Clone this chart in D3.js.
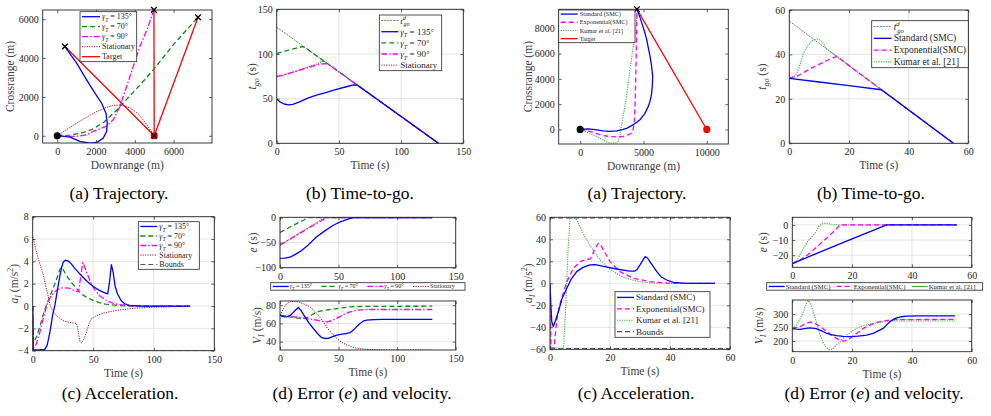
<!DOCTYPE html>
<html>
<head>
<meta charset="utf-8">
<script src="https://cdn.jsdelivr.net/npm/d3@7"></script>
<style>
body { margin: 0; background: #fff; }
svg, svg text, svg tspan { font-family: "Liberation Serif", "Times New Roman", "DejaVu Serif", serif !important; }
</style>
</head>
<body>
<svg id="fig" width="991" height="416"></svg>
<script>
// ---------- data ----------
// left group: gamma_T cases
const lTrajT135 = [[0,0],[139,0],[655,-69],[1170,-291],[1686,-377],[2031,-343],[2371,-120],[2546,223],[2577,651],[2510,1165],[2289,1680],[1943,2194],[1515,2879],[1000,3736],[397,4591]];
const lTrajT70 = [[0,0],[655,40],[1200,130],[1800,330],[2400,700],[3000,1250],[3600,1900],[4300,2650],[5000,3450],[6000,4700],[7260,6100]];
const lTrajT90 = [[0,0],[500,-30],[1000,-34],[1500,50],[1856,223],[2250,380],[2546,500],[2887,823],[3232,1508],[3577,2536],[3918,3563],[4263,4591],[4691,5620],[4985,6478]];
const lTrajStat = [[0,0],[500,330],[1000,650],[1500,950],[2000,1230],[2500,1450],[2900,1570],[3300,1580],[3800,1420],[4200,1100],[4600,600],[5000,0]];
const lTargetEnds = [[397,4591],[4985,6478],[7260,6100]];
const lTargetStart = [5000,0];

const lTgoRef = [[0,130],[130,0]];
const lTgoT135 = [[0,49.6],[3,46],[6,44],[9.4,42.9],[13,43.5],[18.75,46.6],[25,50.5],[32,54],[40,57],[48,60.4],[56,63.3],[61.6,65.3],[65,65],[130,0]];
const lTgoT70 = [[0,100.7],[5,102.5],[10,104.5],[15,106.3],[21,108.3],[24,106],[130,0]];
const lTgoT90 = [[0,74.6],[5,76],[10,78.2],[18.75,82],[25,84.5],[32,87.5],[38,89.2],[41,89],[130,0]];
const lTgoStat = [[0,75],[5,76.5],[10,78.5],[18,82],[25,85.5],[32,88.5],[36,91.5],[38,92],[130,0]];

const lAccT135 = [[0,0],[0.4,-3.9],[5,-3.93],[10,-3.88],[12,-3.5],[14.3,-2.3],[16.5,-0.8],[18.4,0.1],[20.5,1.5],[22.6,2.78],[24,3.5],[25.3,3.95],[27,4.1],[29,4.05],[31.7,3.8],[35,3.35],[40,2.75],[45,2.2],[50,1.75],[55,1.4],[60,1.15],[62,1.1],[63.5,2.2],[65,3.7],[66.5,3],[68,1.8],[70,1.1],[73,0.5],[76,0.2],[80,0.05],[90,0],[130,0]];
const lAccT70 = [[0,0],[0.5,-3.3],[3,-2.8],[6,-1.8],[10,-0.3],[14,0.8],[18,1.9],[21,2.8],[23,3.45],[25,3.3],[28,2.7],[32,2.1],[36,1.6],[40,1.1],[45,0.75],[50,0.5],[55,0.3],[60,0.18],[70,0.05],[80,0],[130,0]];
const lAccT90 = [[0,0],[0.5,-3.8],[3,-3.4],[6,-2.3],[9,-1],[12,0.2],[15,0.9],[20,1.45],[25,1.65],[30,1.6],[35,1.35],[38,1.3],[39.5,2.5],[41.3,3.9],[43,3.5],[45,2.9],[48,2.1],[51,1.5],[55,0.95],[60,0.55],[65,0.3],[70,0.15],[80,0.03],[90,0],[130,0]];
const lAccStat = [[0,6.2],[1.5,5.6],[3,4.9],[5,4.1],[7,3.4],[8.8,2.78],[11,1.7],[13,0.8],[14.3,0.1],[16,-0.35],[20,-0.9],[25,-1.3],[28,-1.4],[32,-1.5],[36.3,-1.55],[37.5,-2.2],[39,-3.2],[40.5,-3.3],[42,-3],[44.6,-2.3],[46.5,-1.6],[48.7,-1.1],[52,-0.9],[58,-0.65],[63.9,-0.5],[70,-0.38],[83,-0.2],[100,-0.1],[130,-0.03]];
const lAccBound = -4;

const lErrT135 = [[0,-81.5],[4,-81],[8.5,-78.8],[12,-75],[17,-68],[24,-55],[31.3,-38.4],[38,-27],[45.5,-15.2],[52,-8],[58,-3],[62.6,0],[130,0]];
const lErrT70 = [[0,-29.8],[5,-23.5],[10,-17],[15,-11],[20,-5.3],[24,0],[130,0]];
const lErrT90 = [[0,-55],[10,-41],[20,-27],[30,-13.5],[40,0],[130,0]];
const lErrStat = [[0,-55],[10,-40.5],[20,-26],[30,-11.5],[38,0],[130,0]];

const lVelT135 = [[0,69],[3,67.5],[5.7,67.3],[9,69],[12,73],[15.7,77.5],[18,74],[21.3,67.3],[25,60],[28.5,54.5],[32,49],[35.6,44.4],[38.5,43.5],[41.3,43.6],[45,45.5],[48.4,47.3],[53,48.2],[57,49],[60,50],[62.6,52.7],[65.5,56.5],[68.3,60],[71,62.5],[74,63.6],[80,64.2],[88,64.4],[130,64.4]];
const lVelT70 = [[0,69],[4,67.5],[8.5,67.3],[14,66],[20,65],[25,67.5],[31.3,72.7],[38,74.5],[45.5,75.6],[52,77],[59.8,78.2],[70,78.7],[130,78.9]];
const lVelT90 = [[0,69],[8,67.8],[17,66.5],[25,65],[31.3,63.6],[36,62.3],[39.8,61.8],[44,63],[48.4,65.5],[54,69.5],[59.8,72.7],[66,74.5],[74,75.3],[130,75.3]];
const lVelStat = [[0,69],[3,76],[5.7,81.8],[9,84],[13,84.4],[17,83],[21,81],[25.6,78.2],[30,73],[34,67],[37,61.8],[41,54],[45.5,47.3],[50,42],[54,38.2],[60,35],[65.5,32.7],[75,31.5],[88,31],[130,31]];

// right group: guidance laws
const rTrajStd = [[0,0],[600,50],[1200,-20],[1800,-120],[2350,-150],[2900,-110],[3400,0],[3700,110],[4200,380],[4723,768],[5100,1250],[5383,1828],[5560,2400],[5646,2887],[5700,3500],[5725,4212],[5640,5000],[5515,5801],[5380,6450],[5251,7126],[5060,7800],[4855,8450],[4670,9000],[4485,9510]];
const rTrajExp = [[0,0],[600,-100],[1200,-300],[1800,-480],[2348,-556],[2900,-590],[3404,-556],[3800,-420],[4063,-291],[4200,100],[4280,800],[4327,1828],[4370,3400],[4406,5007],[4435,6400],[4459,7656],[4475,8600],[4485,9510]];
const rTrajKumar = [[0,0],[600,-230],[1200,-500],[1557,-689],[2000,-950],[2348,-1086],[2700,-1060],[3008,-954],[3150,-500],[3193,-26],[3350,800],[3536,1828],[3750,3300],[3931,4741],[4070,5700],[4195,6596],[4330,7500],[4459,8450],[4485,9510]];
const rTarget = [[10000,0],[4485,9510]];

const rTgoRef = [[0,55],[55,0]];
const rTgoStd = [[0,29.25],[10,27.6],[20,26],[30.9,24.1],[55,0]];
const rTgoExp = [[0,29.5],[2,29.8],[4,31.2],[7,33.5],[10,35.5],[13,37.5],[15.9,39.1],[55,0]];
const rTgoKumar = [[0,29.5],[1.5,30],[2.5,31.5],[3.5,35],[4.7,40.5],[6,43.5],[7,45.3],[8,46.5],[9.2,47],[10.3,46.5],[11.4,45],[12.5,42.5],[55,0]];

const rAccStd = [[0,0],[0.3,-20],[0.6,-35],[1.1,-39.4],[1.8,-34],[2.8,-25.7],[4,-14],[5.6,-4.5],[7,3.5],[8.9,10.6],[11,14.5],[13.3,16.7],[15,17],[16.7,16.1],[19,14.8],[22.2,13],[25,11.8],[26.7,11],[28.2,11],[29,12.5],[30,16.7],[31.7,24.2],[32.5,23],[33.3,19.7],[35.6,10.6],[37,6],[38.9,3],[41.1,0.9],[44.4,0.1],[46,0],[55,0]];
const rAccExp = [[0,0],[0.3,-59],[1.3,-59],[2.2,-35],[3,-22],[3.9,-13.6],[5.6,1.5],[7.8,13.6],[10,19.7],[12.2,21.8],[13.3,22],[14,25],[15,31.8],[16.1,36.4],[17,34.5],[17.8,30.3],[20,19.7],[23.3,10.6],[27.8,4.5],[33.3,1.5],[38.9,0.2],[42,0],[55,0]];
const rAccKumar = [[0,0],[0.3,-59],[4.5,-59],[5,-35],[5.5,-5],[6,30],[6.7,59],[8.5,59],[9,57],[10,51.5],[11.5,43],[13.3,34.8],[15,27.5],[16.7,21.2],[19,15],[21.1,10.6],[23,7.5],[25.6,4.5],[28,2.8],[30,1.5],[33,0.6],[35.6,0.1],[40,0],[55,0]];
const rAccBound = 59.3;

const rErrStd = [[0,-25.6],[10,-17.3],[20,-9.3],[31.6,0],[55,0]];
const rErrExp = [[0,-25.6],[2,-24],[5,-20],[8,-15],[12,-8],[16,0],[55,0]];
const rErrKumar = [[0,-25.6],[1.5,-23.5],[3.7,-15.5],[5.5,-10],[7.6,-5.6],[9,-0.5],[10.4,1.1],[12,0.8],[13.7,0.1],[16,0],[55,0]];

const rVelStd = [[0,247],[1.3,244],[2.6,243],[4,246],[5.9,249],[8,246],[10,237],[11.5,228],[13,224],[14.8,220],[17,217],[19.3,216],[22,218],[24.9,222],[27,228],[28.2,235],[30.4,247],[31.5,259],[32.7,272],[33.8,280],[34.9,286],[36.5,290],[38.2,292],[42,293],[54.4,293]];
const rVelExp = [[0,247],[1.3,250],[2.6,253],[4,262],[5.9,270],[7,268],[8.1,262],[10,248],[11.5,235],[13,222],[14.8,210],[16,203],[17.1,200],[18,202],[19.3,210],[21.5,228],[23.8,247],[26,259],[28.2,269],[30.5,274],[32.7,278],[36,279.5],[54.4,280]];
const rVelKumar = [[0,247],[1.4,259],[2.5,280],[3.7,309],[4.6,335],[5.4,350],[6.2,335],[7,309],[8.1,268],[9.3,222],[10.4,192],[11.5,173],[12.6,167],[13.7,172],[14.8,185],[16.5,205],[18.2,222],[20.4,240],[22.6,253],[25,260],[27.1,265],[30,270],[32.7,274],[54.4,274]];

// tick labels
const tickTime150 = [0, 50, 100, 150];
const tickTime60 = [0, 20, 40, 60];

// ---------- styles ----------
const FONT = '"Liberation Serif", "Times New Roman", "DejaVu Serif", serif';
const S = {
  blue:  { c: "#0000ff", w: 1.3 },
  green: { c: "#138a13", w: 1.3, dash: "5,3" },
  mag:   { c: "#ff00ff", w: 1.3, dash: "6,2,1.5,2" },
  stat:  { c: "#a2142f", w: 1.0, dash: "1.2,1.2" },
  red:   { c: "#ff0000", w: 1.3 },
  ref:   { c: "#555555", w: 0.8, dash: "2,1" },
  bound: { c: "#555555", w: 1.1, dash: "5,3" },
  expo:  { c: "#ff00ff", w: 1.3, dash: "5,3" },
  kumar: { c: "#3cb43c", w: 1.1, dash: "1.2,1.2" }
};

const svg = d3.select("#fig").attr("font-family", FONT);
let clipId = 0;

function rich(sel, parts, fs) {
  let cur = 0;
  parts.forEach(p => {
    if (typeof p === "string") p = { t: p };
    const sh = p.sub ? fs * 0.3 : p.sup ? -fs * 0.4 : 0;
    const ts = sel.append("tspan").attr("dy", sh - cur).text(p.t);
    if (p.dx) ts.attr("dx", p.dx);
    cur = sh;
    if (p.sub || p.sup) ts.attr("font-size", fs * 0.7);
    if (p.it) ts.attr("font-style", "italic");
  });
  return sel;
}

const gT = (v) => [{ t: "γ", it: true }, { t: "T", sub: true, it: true }, " = " + v + "°"];
const tgoD = [{ t: "t", it: true }, { t: "d", sup: true, it: true }, { t: "go", sub: true, it: true, dx: -2.5 }];

function panel(o) {
  const x = d3.scaleLinear().domain(o.xd).range([o.left, o.left + o.w]);
  const y = d3.scaleLinear().domain(o.yd).range([o.top + o.h, o.top]);
  const g = svg.append("g");
  const id = "clip" + (clipId++);
  g.append("clipPath").attr("id", id).append("rect")
    .attr("x", o.left).attr("y", o.top).attr("width", o.w).attr("height", o.h);

  if (o.grid) {
    g.selectAll(".gx").data(o.xt).join("line")
      .attr("x1", d => x(d)).attr("x2", d => x(d)).attr("y1", o.top).attr("y2", o.top + o.h)
      .attr("stroke", "#dfdfdf").attr("stroke-width", 0.8);
    g.selectAll(".gy").data(o.yt).join("line")
      .attr("x1", o.left).attr("x2", o.left + o.w).attr("y1", d => y(d)).attr("y2", d => y(d))
      .attr("stroke", "#dfdfdf").attr("stroke-width", 0.8);
  }

  const line = d3.line().x(d => x(d[0])).y(d => y(d[1]));
  const plot = g.append("g").attr("clip-path", `url(#${id})`);
  (o.series || []).forEach(s => {
    plot.append("path").datum(s.d).attr("d", line)
      .attr("fill", "none").attr("stroke", s.c).attr("stroke-width", s.w)
      .attr("stroke-dasharray", s.dash || null).attr("stroke-linejoin", "round");
  });

  // axes: ticks inside on all four sides
  const fs = 10;
  const ax = (gen, tr, labels) => {
    const a = g.append("g").attr("transform", tr).call(gen).attr("font-family", FONT);
    a.select(".domain").remove();
    a.selectAll(".tick line").attr("stroke", "#262626").attr("stroke-width", 0.7);
    a.selectAll("text").attr("font-size", fs).attr("fill", "#262626");
    if (!labels) a.selectAll("text").remove();
  };
  ax(d3.axisBottom(x).tickValues(o.xt).tickSize(-3).tickPadding(5).tickFormat(d3.format("d")), `translate(0,${o.top + o.h})`, true);
  ax(d3.axisTop(x).tickValues(o.xt).tickSize(-3), `translate(0,${o.top})`, false);
  ax(d3.axisLeft(y).tickValues(o.yt).tickSize(-3).tickPadding(4).tickFormat(d3.format("d")), `translate(${o.left},0)`, true);
  ax(d3.axisRight(y).tickValues(o.yt).tickSize(-3), `translate(${o.left + o.w},0)`, false);

  g.append("rect").attr("x", o.left).attr("y", o.top).attr("width", o.w).attr("height", o.h)
    .attr("fill", "none").attr("stroke", "#262626").attr("stroke-width", 0.9);

  if (o.xlab) {
    rich(g.append("text").attr("x", o.left + o.w / 2).attr("y", o.top + o.h + 26)
      .attr("text-anchor", "middle").attr("font-size", 11.5).attr("fill", "#404040"), o.xlab, 11.5);
  }
  if (o.ylab) {
    rich(g.append("text").attr("transform", `translate(${o.ylabX},${o.top + o.h / 2}) rotate(-90)`)
      .attr("text-anchor", "middle").attr("font-size", 11.5).attr("fill", "#404040"), o.ylab, 11.5);
  }
  return { x, y, g };
}

function legendV(o) {
  const g = svg.append("g");
  g.append("rect").attr("x", o.x).attr("y", o.y).attr("width", o.w).attr("height", o.h)
    .attr("fill", "#fff").attr("stroke", "#262626").attr("stroke-width", 0.8);
  const rh = o.h / o.items.length;
  o.items.forEach((it, i) => {
    const cy = o.y + rh * (i + 0.5);
    g.append("line").attr("x1", o.x + 2).attr("x2", o.x + 2 + o.ll).attr("y1", cy).attr("y2", cy)
      .attr("stroke", it.c).attr("stroke-width", it.w).attr("stroke-dasharray", it.dash || null);
    rich(g.append("text").attr("x", o.x + 4 + o.ll).attr("y", cy + o.fs * 0.33)
      .attr("font-size", o.fs).attr("fill", "#262626"), it.parts, o.fs);
  });
}

function legendH(o) {
  const g = svg.append("g");
  g.append("rect").attr("x", o.x).attr("y", o.y).attr("width", o.w).attr("height", o.h)
    .attr("fill", "#fff").attr("stroke", "#262626").attr("stroke-width", 0.8);
  const cy = o.y + o.h / 2;
  const texts = o.items.map(it => rich(g.append("text").attr("y", cy + o.fs * 0.33)
    .attr("font-size", o.fs).attr("fill", "#262626"), it.parts, o.fs));
  const lens = texts.map(t => t.node().getComputedTextLength());
  const used = d3.sum(lens) + o.items.length * (o.ll + 1);
  const gap = (o.w - 3 - used) / o.items.length;
  let cx = o.x + 2;
  o.items.forEach((it, i) => {
    g.append("line").attr("x1", cx).attr("x2", cx + o.ll).attr("y1", cy).attr("y2", cy)
      .attr("stroke", it.c).attr("stroke-width", it.w).attr("stroke-dasharray", it.dash || null);
    texts[i].attr("x", cx + o.ll + 1);
    cx += o.ll + 1 + lens[i] + gap;
  });
}

function dot(p, px, py, fill) {
  svg.append("circle").attr("cx", p.x(px)).attr("cy", p.y(py)).attr("r", 3.6).attr("fill", fill);
}
function cross(p, px, py) {
  const cx = p.x(px), cy = p.y(py), r = 2.8;
  svg.append("path").attr("d", `M${cx - r},${cy - r}L${cx + r},${cy + r}M${cx - r},${cy + r}L${cx + r},${cy - r}`)
    .attr("stroke", "#000").attr("stroke-width", 1.4).attr("fill", "none");
}
function caption(x, y, txt) {
  svg.append("text").attr("x", x).attr("y", y).attr("text-anchor", "middle")
    .attr("font-size", 17.5).attr("fill", "#000").text(txt);
}
const ser = (d, st) => Object.assign({ d }, st);

// ================= LEFT (a) trajectory =================
const pLA = panel({
  left: 42.7, top: 10, w: 169.3, h: 133, xd: [-750, 7980], yd: [-370, 6470],
  xt: [0, 2000, 4000, 6000], yt: [0, 2000, 4000, 6000],
  xlab: ["Downrange (m)"], ylab: ["Crossrange (m)"], ylabX: 14,
  series: [
    ...lTargetEnds.map(e => ser([lTargetStart, e], S.red)),
    ser(lTrajStat, S.stat), ser(lTrajT70, S.green), ser(lTrajT90, S.mag), ser(lTrajT135, S.blue)
  ]
});
dot(pLA, 0, 0, "#000");
dot(pLA, lTargetStart[0], lTargetStart[1], "#ff0000");
cross(pLA, lTargetStart[0], lTargetStart[1]);
lTargetEnds.forEach(e => cross(pLA, e[0], e[1]));
legendV({ x: 80, y: 11.7, w: 56.7, h: 50, fs: 8, ll: 18, items: [
  Object.assign({ parts: gT(135) }, S.blue), Object.assign({ parts: gT(70) }, S.green),
  Object.assign({ parts: gT(90) }, S.mag), Object.assign({ parts: ["Stationary"] }, S.stat),
  Object.assign({ parts: ["Target"] }, S.red)] });

// ================= LEFT (b) time-to-go =================
panel({
  left: 276.7, top: 9.3, w: 186.6, h: 134, xd: [0, 150], yd: [0, 150],
  xt: tickTime150, yt: [0, 50, 100, 150], grid: true,
  xlab: ["Time (s)"], ylab: [{ t: "t", it: true }, { t: "go", sub: true, it: true }, " (s)"], ylabX: 256,
  series: [ser(lTgoRef, S.ref), ser(lTgoStat, S.stat), ser(lTgoT70, S.green), ser(lTgoT90, S.mag), ser(lTgoT135, S.blue)]
});
legendV({ x: 379.3, y: 15, w: 62.4, h: 55.7, fs: 9, ll: 17, items: [
  Object.assign({ parts: tgoD }, S.ref),
  Object.assign({ parts: gT(135) }, S.blue), Object.assign({ parts: gT(70) }, S.green),
  Object.assign({ parts: gT(90) }, S.mag), Object.assign({ parts: ["Stationary"] }, S.stat)] });

// ================= LEFT (c) acceleration =================
panel({
  left: 32.7, top: 216.7, w: 181.6, h: 134, xd: [0, 150], yd: [-4, 8],
  xt: tickTime150, yt: [-4, -2, 0, 2, 4, 6, 8], grid: true,
  xlab: ["Time (s)"], ylab: [{ t: "a", it: true }, { t: "I", sub: true, it: true }, "  (m/s", { t: "2", sup: true }, ")"], ylabX: 18,
  series: [ser([[0, lAccBound], [150, lAccBound]], S.bound),
    ser(lAccStat, S.stat), ser(lAccT70, S.green), ser(lAccT90, S.mag), ser(lAccT135, S.blue)]
});
legendV({ x: 138.3, y: 221.7, w: 61, h: 47.6, fs: 8, ll: 17, items: [
  Object.assign({ parts: gT(135) }, S.blue), Object.assign({ parts: gT(70) }, S.green),
  Object.assign({ parts: gT(90) }, S.mag), Object.assign({ parts: ["Stationary"] }, S.stat),
  Object.assign({ parts: ["Bounds"] }, S.bound)] });

// ================= LEFT (d) error + velocity =================
panel({
  left: 280, top: 217.3, w: 175.7, h: 50.4, xd: [0, 150], yd: [-100, 0.6],
  xt: tickTime150, yt: [-100, -50, 0], grid: true,
  ylab: [{ t: "e", it: true }, " (s)"], ylabX: 257,
  series: [ser(lErrStat, S.stat), ser(lErrT70, S.green), ser(lErrT90, S.mag), ser(lErrT135, S.blue)]
});
legendH({ x: 270.7, y: 282.7, w: 194.3, h: 7.5, fs: 6, ll: 16, items: [
  Object.assign({ parts: gT(135) }, S.blue), Object.assign({ parts: gT(70) }, S.green),
  Object.assign({ parts: gT(90) }, S.mag), Object.assign({ parts: ["Stationary"] }, S.stat)] });
panel({
  left: 280, top: 301, w: 175.7, h: 49, xd: [0, 150], yd: [30.9, 84.6],
  xt: tickTime150, yt: [40, 60, 80], grid: true,
  xlab: ["Time (s)"], ylab: [{ t: "V", it: true }, { t: "I", sub: true, it: true }, " (m/s)"], ylabX: 261,
  series: [ser(lVelStat, S.stat), ser(lVelT70, S.green), ser(lVelT90, S.mag), ser(lVelT135, S.blue)]
});

// ================= RIGHT (a) trajectory =================
const pRA = panel({
  left: 558.7, top: 9.3, w: 169.6, h: 134.7, xd: [-1700, 11700], yd: [-1150, 9500],
  xt: [0, 5000, 10000], yt: [0, 2000, 4000, 6000, 8000],
  xlab: ["Downrange (m)"], ylab: ["Crossrange (m)"], ylabX: 532,
  series: [ser(rTarget, S.red), ser(rTrajKumar, S.kumar), ser(rTrajExp, S.expo), ser(rTrajStd, S.blue)]
});
dot(pRA, 0, 0, "#000");
dot(pRA, rTarget[0][0], rTarget[0][1], "#ff0000");
cross(pRA, rTarget[1][0], rTarget[1][1]);
legendV({ x: 558.7, y: 10, w: 76.3, h: 32.7, fs: 6.3, ll: 17, items: [
  Object.assign({ parts: ["Standard (SMC)"] }, S.blue), Object.assign({ parts: ["Exponential(SMC)"] }, S.expo),
  Object.assign({ parts: ["Kumar et al. [21]"] }, S.kumar), Object.assign({ parts: ["Target"] }, S.red)] });

// ================= RIGHT (b) time-to-go =================
panel({
  left: 789.3, top: 10, w: 179, h: 133.3, xd: [0, 60], yd: [0, 60],
  xt: tickTime60, yt: [0, 20, 40, 60], grid: true,
  xlab: ["Time (s)"], ylab: [{ t: "t", it: true }, { t: "go", sub: true, it: true }, " (s)"], ylabX: 766,
  series: [ser(rTgoRef, S.ref), ser(rTgoKumar, S.kumar), ser(rTgoExp, S.expo), ser(rTgoStd, S.blue)]
});
legendV({ x: 871.7, y: 20.7, w: 96.6, h: 47, fs: 9.5, ll: 18, items: [
  Object.assign({ parts: tgoD }, S.ref),
  Object.assign({ parts: ["Standard (SMC)"] }, S.blue), Object.assign({ parts: ["Exponential(SMC)"] }, S.expo),
  Object.assign({ parts: ["Kumar et al. [21]"] }, S.kumar)] });

// ================= RIGHT (c) acceleration =================
panel({
  left: 550, top: 217.3, w: 180, h: 132, xd: [0, 60], yd: [-60, 60],
  xt: tickTime60, yt: [-60, -40, -20, 0, 20, 40, 60], grid: true,
  xlab: ["Time (s)"], ylab: [{ t: "a", it: true }, { t: "I", sub: true, it: true }, "  (m/s", { t: "2", sup: true }, ")"], ylabX: 532,
  series: [ser([[0, rAccBound], [60, rAccBound]], S.bound), ser([[0, -rAccBound], [60, -rAccBound]], S.bound),
    ser(rAccKumar, S.kumar), ser(rAccExp, S.expo), ser(rAccStd, S.blue)]
});
legendV({ x: 615, y: 291.7, w: 95, h: 45.6, fs: 9, ll: 17, items: [
  Object.assign({ parts: ["Standard (SMC)"] }, S.blue), Object.assign({ parts: ["Exponential(SMC)"] }, S.expo),
  Object.assign({ parts: ["Kumar et al. [21]"] }, S.kumar), Object.assign({ parts: ["Bounds"] }, S.bound)] });

// ================= RIGHT (d) error + velocity =================
panel({
  left: 792.3, top: 217.3, w: 179.4, h: 50, xd: [0, 60], yd: [-28, 5],
  xt: tickTime60, yt: [-20, -10, 0], grid: true,
  ylab: [{ t: "e", it: true }, " (s)"], ylabX: 767,
  series: [ser(rErrKumar, S.kumar), ser(rErrExp, S.expo), ser(rErrStd, S.blue)]
});
legendH({ x: 766.7, y: 282.7, w: 216, h: 7.5, fs: 6.8, ll: 16, items: [
  Object.assign({ parts: ["Standard (SMC)"] }, S.blue), Object.assign({ parts: ["Exponential(SMC)"] }, S.expo),
  Object.assign({ parts: ["Kumar et al. [21]"] }, S.kumar, { dash: null })] });
panel({
  left: 792.3, top: 300, w: 179.4, h: 51.7, xd: [0, 60], yd: [160.5, 352],
  xt: tickTime60, yt: [200, 250, 300], grid: true,
  xlab: ["Time (s)"], ylab: [{ t: "V", it: true }, { t: "I", sub: true, it: true }, " (m/s)"], ylabX: 763,
  series: [ser(rVelKumar, S.kumar), ser(rVelExp, S.expo), ser(rVelStd, S.blue)]
});

// ---------- captions ----------
caption(119, 199, "(a) Trajectory.");
caption(360, 199, "(b) Time-to-go.");
caption(637, 199, "(a) Trajectory.");
caption(871, 199, "(b) Time-to-go.");
caption(120, 399, "(c) Acceleration.");
const capD = (x) => {
  const t = svg.append("text").attr("x", x).attr("y", 399).attr("text-anchor", "middle")
    .attr("font-size", 17.5).attr("fill", "#000");
  t.append("tspan").text("(d) Error (");
  t.append("tspan").attr("font-style", "italic").text("e");
  t.append("tspan").text(") and velocity.");
};
capD(362);
caption(636, 399, "(c) Acceleration.");
capD(874);

svg.selectAll("text, tspan").style("font-family", FONT);
</script>
</body>
</html>
